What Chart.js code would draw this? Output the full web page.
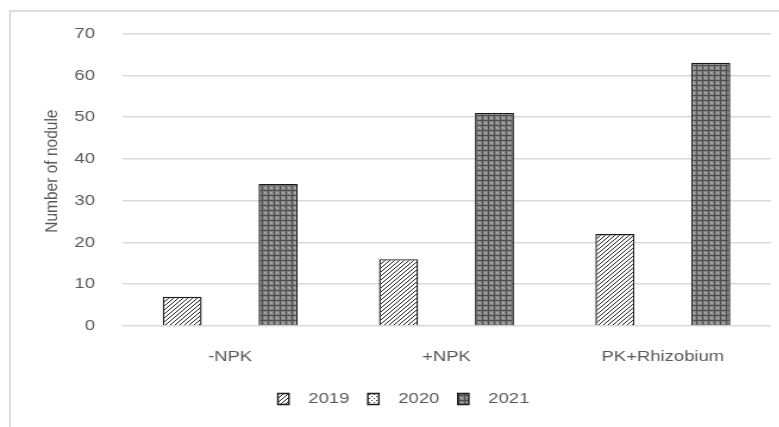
<!DOCTYPE html>
<html>
<head>
<meta charset="utf-8">
<script src="https://cdn.jsdelivr.net/npm/chart.js@4"></script>
<style>
  html, body { margin: 0; padding: 0; background: #fff; width: 779px; height: 427px; overflow: hidden; }
  #frame { position: absolute; left: 9px; top: 10px; width: 770px; height: 417px;
           border-left: 2px solid #dedede; border-top: 2px solid #dedede; box-sizing: border-box; }
  #wrap { position: absolute; left: 0; top: 0; width: 655px; height: 427px;
          transform: scaleX(1.19); transform-origin: 0 0; }
  canvas { display: block; }
</style>
</head>
<body>
<div id="frame"></div>
<div id="wrap"><canvas id="c" width="655" height="427"></canvas></div>
<script>
// Nodule counts per treatment and year
const categories = ['-NPK', '+NPK', 'PK+Rhizobium'];
const years = ['2019', '2020', '2021'];
const values2019 = [7, 16, 22];
const values2020 = [null, null, null];
const values2021 = [34, 51, 63];
const yTicks = [0, 10, 20, 30, 40, 50, 60, 70];

const FONT = '"Liberation Sans", Arial, sans-serif';
const TEXT = '#595959';
const SIZE = 15.5;

function makeTile(size, paint) {
  const c = document.createElement('canvas');
  c.width = size; c.height = size;
  const g = c.getContext('2d');
  paint(g, size);
  return g.createPattern(c, 'repeat');
}

// "/" diagonal hatching
const hatch = makeTile(4, (g, s) => {
  g.fillStyle = '#fff'; g.fillRect(0, 0, s, s);
  g.strokeStyle = '#222'; g.lineWidth = 1.0;
  g.beginPath();
  for (let k = -s; k <= 2 * s; k += s) { g.moveTo(k, s); g.lineTo(k + s, 0); }
  g.stroke();
});

// sparse dots
const dots = makeTile(4, (g, s) => {
  g.fillStyle = '#fff'; g.fillRect(0, 0, s, s);
  g.fillStyle = '#333';
  g.fillRect(0, 0, 1, 1); g.fillRect(2, 2, 1, 1);
});

// dark plaid
const plaid = makeTile(5, (g, s) => {
  g.fillStyle = '#858585'; g.fillRect(0, 0, s, s);
  g.fillStyle = '#4d4d4d';
  g.fillRect(0, 0, 1, s); g.fillRect(0, 0, s, 1);
  g.fillStyle = '#bdbdbd';
  g.fillRect(2, 2, 1, 1); g.fillRect(3, 3, 1, 1);
});

const fills = [hatch, dots, plaid];
const seriesValues = [values2019, values2020, values2021];

new Chart(document.getElementById('c'), {
  type: 'bar',
  data: {
    labels: categories,
    datasets: years.map((y, i) => ({
      label: y,
      data: seriesValues[i],
      backgroundColor: fills[i],
      borderColor: '#1a1a1a',
      borderWidth: 1.4,
      categoryPercentage: 0.665,
      barPercentage: 0.814
    }))
  },
  options: {
    responsive: false,
    animation: false,
    devicePixelRatio: 1,
    layout: { padding: { left: 30.4, right: 7.1, top: 33.5, bottom: 10.25 } },
    plugins: {
      tooltip: { enabled: false },
      legend: {
        position: 'bottom',
        labels: {
          color: TEXT,
          font: { family: FONT, size: SIZE },
          boxWidth: 9.25,
          boxHeight: 11,
          padding: 15.5,
          generateLabels: chart => Chart.defaults.plugins.legend.labels.generateLabels(chart)
            .map(item => Object.assign(item, { text: '\u00a0\u00a0' + item.text }))
        }
      }
    },
    scales: {
      x: {
        grid: { display: false, drawTicks: false },
        border: { display: false },
        ticks: { color: TEXT, font: { family: FONT, size: SIZE }, padding: 21.2, maxRotation: 0 },
        afterFit: s => { s.height = 49.75; }
      },
      y: {
        min: 0,
        max: 70,
        afterBuildTicks: s => { s.ticks = yTicks.map(v => ({ value: v })); },
        grid: { color: '#d9d9d9', lineWidth: 1.5, drawTicks: false },
        border: { display: false },
        ticks: { color: TEXT, font: { family: FONT, size: SIZE }, padding: 22.7 },
        title: {
          display: true,
          // leading spaces nudge the rotated title slightly upward
          text: '\u00a0\u00a0\u00a0\u00a0Number of nodule',
          color: TEXT,
          font: { family: FONT, size: SIZE },
          padding: { top: 4, bottom: 0 }
        },
        afterFit: s => { s.width = 72.1; }
      }
    }
  }
});
</script>
</body>
</html>
